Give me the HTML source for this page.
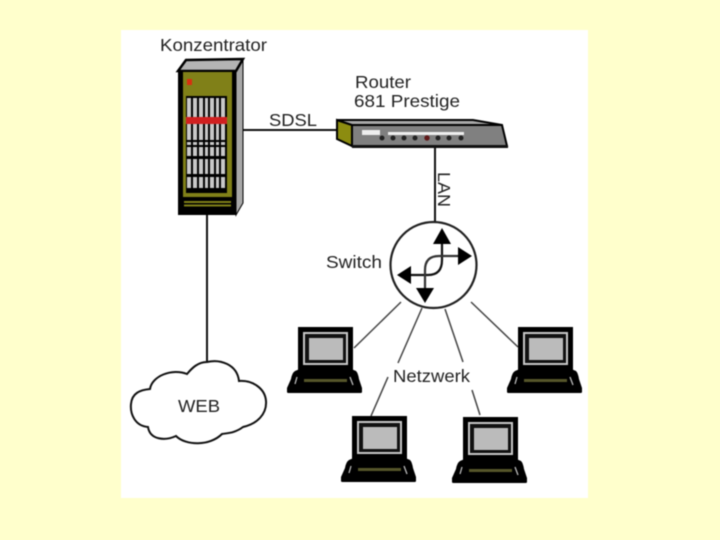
<!DOCTYPE html>
<html><head><meta charset="utf-8"><style>
html,body{margin:0;padding:0;width:720px;height:540px;background:#ffffcc;overflow:hidden}
svg{display:block;filter:blur(.45px)}
text{font-family:"Liberation Sans",sans-serif;font-size:17.5px;fill:#222;lengthAdjust:spacingAndGlyphs}
</style></head><body>
<svg width="720" height="540" viewBox="0 0 720 540">
<defs>
<g id="pc">
<rect x="0" y="0" width="55" height="44" fill="#000"/>
<rect x="5" y="5" width="45" height="33" fill="#c8c8c8"/>
<rect x="7" y="7" width="41" height="29" fill="#111"/>
<rect x="11" y="11" width="34" height="22" fill="#bbb"/>
<path d="M4 41H51L58 44Q60 46 61 52L64 61V65Q64 66 62 66H-9Q-11 66 -11 65V61L-7 52Q-6 46 -3 44Z" fill="#000"/>
<rect x="6" y="52" width="43" height="3" fill="#55552a"/>
<path d="M-1 50L-3 57M52 50L55 58" stroke="#bbb" stroke-width="1.3"/>
</g>
</defs>
<rect x="121" y="30" width="467" height="468" fill="#fff"/>

<!-- connectors -->
<g stroke="#111" stroke-width="2" fill="none">
<line x1="207" y1="214" x2="207" y2="362"/>
<line x1="240" y1="130" x2="338" y2="130"/>
<line x1="435" y1="145" x2="435" y2="222"/>
</g>
<g stroke="#444" stroke-width="1.5" fill="none">
<line x1="354" y1="348" x2="401" y2="302"/>
<line x1="398" y1="363" x2="422" y2="308"/>
<line x1="388" y1="377" x2="371" y2="416"/>
<line x1="445" y1="309" x2="463" y2="362"/>
<line x1="472" y1="390" x2="480" y2="415"/>
<line x1="518" y1="347" x2="471" y2="302"/>
</g>

<!-- rack -->
<polygon points="236,71 243,60 243,203 236,215" fill="#a8a8a8" stroke="#000"/>
<polygon points="178,71 186,60 243,59 236,71" fill="#b4b4b4" stroke="#000" stroke-width="2.5"/>
<rect x="178" y="70" width="58" height="145" fill="#000"/>
<rect x="183" y="72" width="49" height="125" fill="#808018"/>
<rect x="186" y="96" width="41" height="97" fill="#000"/>
<g fill="#c8c8c8">
<rect x="187" y="98" width="4" height="90"/><rect x="193" y="98" width="4" height="90"/>
<rect x="199" y="98" width="4" height="90"/><rect x="205" y="98" width="3" height="90"/>
<rect x="210" y="98" width="4" height="90"/><rect x="216" y="98" width="3" height="90"/>
<rect x="221" y="98" width="4" height="90"/>
</g>
<g fill="#000">
<rect x="186" y="140" width="41" height="2"/><rect x="186" y="145" width="41" height="2"/>
<rect x="186" y="156" width="41" height="3"/><rect x="186" y="174" width="41" height="3"/>
</g>
<rect x="186" y="117" width="41" height="7" fill="#d02020"/>
<rect x="187" y="79" width="5" height="6" fill="#d83010"/>
<rect x="184" y="201" width="47" height="2" fill="#808018"/>
<rect x="184" y="204.500" width="47" height="2" fill="#808018"/>

<!-- router -->
<polygon points="337,120 352,125 352,146 337,139" fill="#8c8c10" stroke="#000" stroke-width="2"/>
<polygon points="337,120 473,120 502,125 352,125" fill="#a8a8a8" stroke="#000" stroke-width="2"/>
<polygon points="352,125 502,125 507,146 352,146" fill="#808080" stroke="#000" stroke-width="2"/>
<rect x="352" y="145" width="156" height="3" fill="#111"/>
<rect x="362" y="130" width="18" height="5" fill="#eee"/>
<rect x="388" y="132" width="76" height="3" fill="#eee"/>
<g fill="#222">
<circle cx="382" cy="138" r="2.5"/><circle cx="393" cy="138" r="2.5"/><circle cx="404" cy="138" r="2.5"/><circle cx="415" cy="138" r="2.5"/><circle cx="438" cy="138" r="2.5"/><circle cx="449" cy="138" r="2.5"/><circle cx="461" cy="138" r="2.5"/>
</g>
<circle cx="427" cy="138" r="2.7" fill="#601818"/>

<!-- switch -->
<circle cx="433.500" cy="265" r="43" fill="#fff" stroke="#222" stroke-width="2.2"/>
<g stroke="#111" stroke-width="2.2" fill="none">
<path d="M442 240V260Q442 275 428 275H400"/>
<path d="M460 256H439Q425 256 425 270V292" stroke="#333"/>
</g>
<g fill="#000">
<polygon points="442,228 433,244 451,244"/>
<polygon points="472,256 458,247 458,265"/>
<polygon points="397,275 411,266 411,284"/>
<polygon points="425,303 416,288 434,288"/>
</g>

<!-- computers -->
<use href="#pc" x="298" y="327"/>
<use href="#pc" x="352" y="416"/>
<use href="#pc" x="518" y="327"/>
<use href="#pc" x="463" y="417"/>

<!-- cloud -->
<path d="M207 362C220 359 237 364 239 381C252 380 265 388 266 401C267 414 257 424 243 427C235 433 228 433 222 434C210 446 186 446 176 436C165 441 150 440 148 427C135 426 130 414 131 404C132 393 140 390 150 389C152 376 172 368 187 374C192 368 198 362 207 362Z" fill="#fff" stroke="#111" stroke-width="2"/>

<!-- labels -->
<text x="160" y="51" textLength="107" lengthAdjust="spacingAndGlyphs">Konzentrator</text>
<text x="355" y="88" textLength="56" lengthAdjust="spacingAndGlyphs">Router</text>
<text x="354" y="107" textLength="106" lengthAdjust="spacingAndGlyphs">681 Prestige</text>
<text x="269" y="126" textLength="48" lengthAdjust="spacingAndGlyphs">SDSL</text>
<text x="326" y="268" textLength="56" lengthAdjust="spacingAndGlyphs">Switch</text>
<text x="393" y="382" textLength="77" lengthAdjust="spacingAndGlyphs">Netzwerk</text>
<text x="178" y="412" textLength="42" lengthAdjust="spacingAndGlyphs">WEB</text>
<text transform="translate(438,172) rotate(90)" textLength="35" lengthAdjust="spacingAndGlyphs">LAN</text>
</svg>
</body></html>
